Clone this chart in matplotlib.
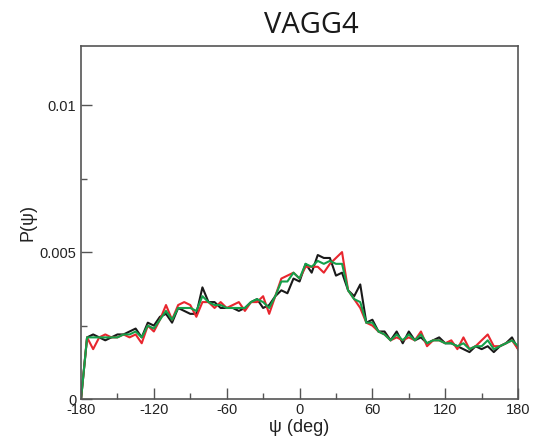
import matplotlib.pyplot as plt
from matplotlib.ticker import MultipleLocator, FixedLocator, FixedFormatter
import numpy as np

plt.rcParams['font.family'] = ['Liberation Sans', 'DejaVu Sans']
plt.rcParams['axes.unicode_minus'] = False

# psi grid, 5 degree bins
psi = np.arange(-180, 181, 5)

run_black = [
    0.0, 0.0021, 0.0022, 0.0021, 0.0020, 0.0021, 0.0022, 0.0022, 0.0023, 0.0024,
    0.0021, 0.0026, 0.0025, 0.0028, 0.0029, 0.0026, 0.0031, 0.0030, 0.0029, 0.0029,
    0.0038, 0.0033, 0.0033, 0.0031, 0.0031, 0.0031, 0.0030, 0.0031, 0.0033, 0.0034,
    0.0031, 0.0032, 0.0035, 0.0037, 0.0036, 0.0041, 0.0040, 0.0046, 0.0043, 0.0049,
    0.0048, 0.0048, 0.0042, 0.0043, 0.0037, 0.0035, 0.0039, 0.0026, 0.0027, 0.0023,
    0.0023, 0.0020, 0.0023, 0.0019, 0.0023, 0.0020, 0.0021, 0.0019, 0.0020, 0.0021,
    0.0019, 0.0019, 0.0018, 0.0017, 0.0016, 0.0018, 0.0017, 0.0018, 0.0016, 0.0018,
    0.0019, 0.0021, 0.0017,
]

run_red = [
    0.0, 0.0021, 0.0017, 0.0021, 0.0022, 0.0021, 0.0021, 0.0022, 0.0021, 0.0022,
    0.0019, 0.0025, 0.0023, 0.0027, 0.0032, 0.0027, 0.0032, 0.0033, 0.0032, 0.0028,
    0.0033, 0.0033, 0.0031, 0.0033, 0.0031, 0.0032, 0.0033, 0.0030, 0.0033, 0.0033,
    0.0035, 0.0029, 0.0035, 0.0041, 0.0042, 0.0043, 0.0041, 0.0045, 0.0045, 0.0045,
    0.0043, 0.0046, 0.0048, 0.0050, 0.0037, 0.0034, 0.0031, 0.0026, 0.0025, 0.0023,
    0.0022, 0.0020, 0.0021, 0.0020, 0.0021, 0.0020, 0.0023, 0.0018, 0.0020, 0.0020,
    0.0019, 0.0020, 0.0017, 0.0021, 0.0017, 0.0018, 0.0020, 0.0022, 0.0018, 0.0018,
    0.0019, 0.0020, 0.0017,
]

run_green = [
    0.0, 0.0021, 0.0021, 0.0021, 0.0021, 0.0021, 0.0021, 0.0022, 0.0022, 0.0023,
    0.0021, 0.0025, 0.0024, 0.0027, 0.0030, 0.0027, 0.0031, 0.0031, 0.0031, 0.0030,
    0.0035, 0.0033, 0.0032, 0.0032, 0.0031, 0.0031, 0.0031, 0.0031, 0.0033, 0.0034,
    0.0033, 0.0031, 0.0035, 0.0040, 0.0040, 0.0043, 0.0041, 0.0046, 0.0045, 0.0047,
    0.0046, 0.0047, 0.0046, 0.0046, 0.0037, 0.0034, 0.0033, 0.0026, 0.0026, 0.0023,
    0.0022, 0.0020, 0.0022, 0.0020, 0.0022, 0.0020, 0.0022, 0.0019, 0.0020, 0.0020,
    0.0019, 0.0019, 0.0018, 0.0019, 0.0017, 0.0018, 0.0018, 0.0020, 0.0017, 0.0018,
    0.0019, 0.0020, 0.0018,
]

x_ticks = [-180, -120, -60, 0, 60, 120, 180]
y_ticks = [0, 0.005, 0.01]
y_labels = ['0', '0.005', '0.01']

fig = plt.figure(figsize=(5.33, 4.44), dpi=100)
ax = fig.add_axes([0.152, 0.101, 0.820, 0.795])

ax.plot(psi, run_black, color='#1a1a1a', lw=1.5)
ax.plot(psi, run_red, color='#e8262e', lw=1.5)
ax.plot(psi, run_green, color='#14a04a', lw=1.5)

ax.set_xlim(-180, 180)
ax.set_ylim(0, 0.012)

ax.xaxis.set_major_locator(FixedLocator(x_ticks))
ax.xaxis.set_minor_locator(MultipleLocator(30))
ax.yaxis.set_major_locator(FixedLocator(y_ticks))
ax.yaxis.set_major_formatter(FixedFormatter(y_labels))
ax.yaxis.set_minor_locator(FixedLocator([0.0025, 0.0075]))

ax.tick_params(which='both', direction='in', top=False, right=False,
               color='#555555', width=1.0, labelsize=10.5, labelcolor='#222222')
ax.tick_params(which='major', length=8)
ax.tick_params(which='minor', length=4.5)
ax.tick_params(axis='x', pad=3)

for s in ax.spines.values():
    s.set_color('#555555')
    s.set_linewidth(1.2)

ax.set_xlabel('ψ (deg)', fontsize=13, labelpad=1, color='#222222')
ax.set_ylabel('P(ψ)', fontsize=13, labelpad=2, color='#222222')
fig.text(0.585, 0.925, 'VAGG4', ha='center', va='baseline',
         fontsize=21, family=['Open Sans', 'DejaVu Sans'], color='#1a1a1a')

fig.savefig('out.png', dpi=100, facecolor='white')
